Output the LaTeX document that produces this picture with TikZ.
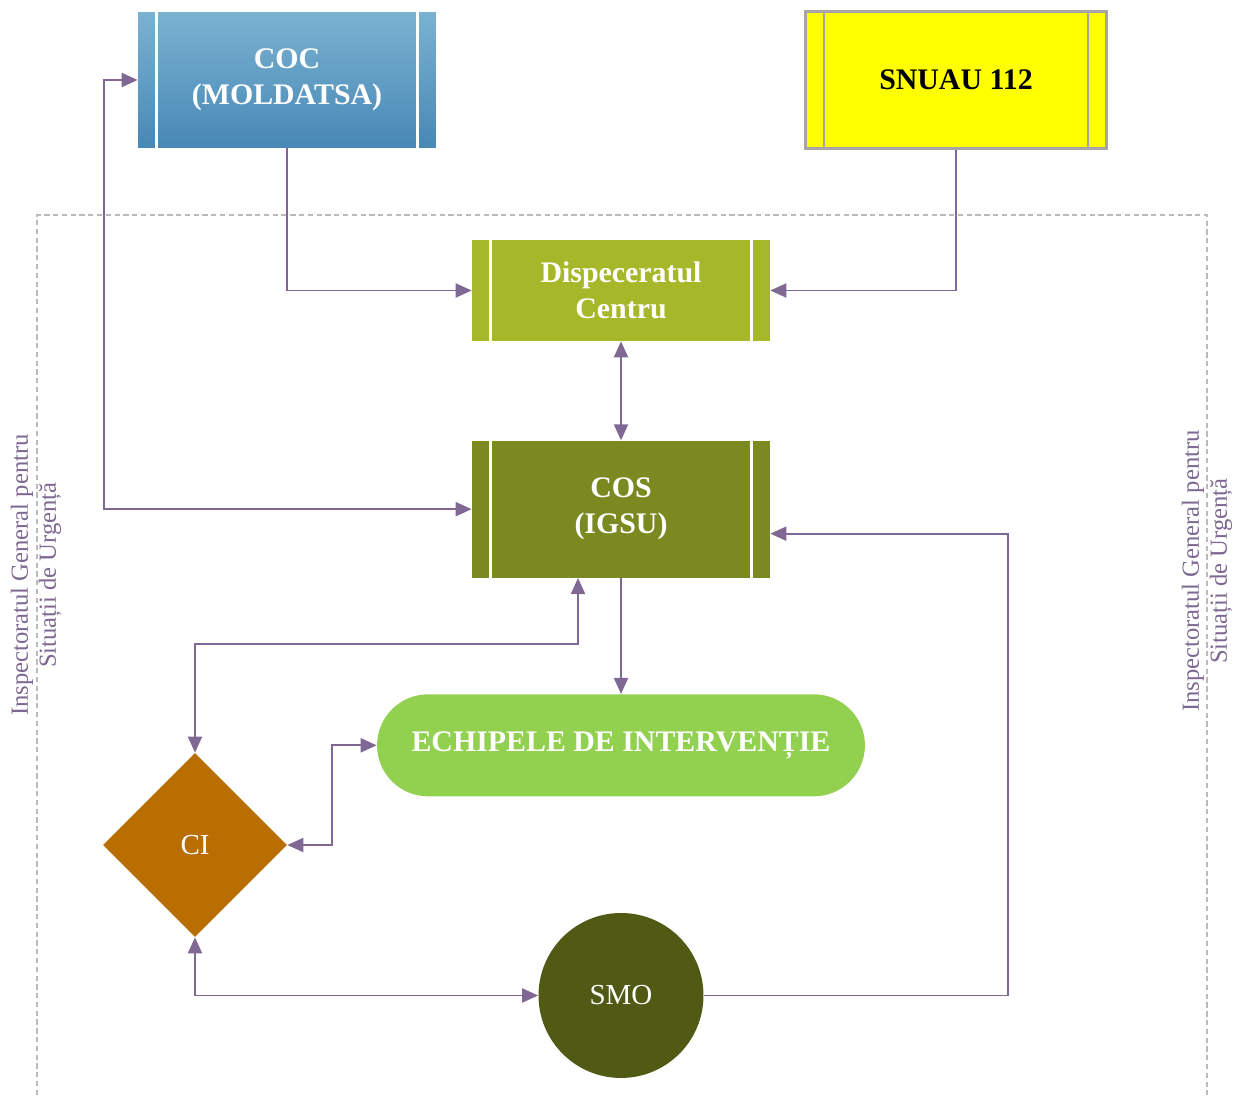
\documentclass[tikz,border=0pt]{standalone}
\usepackage{fontspec}
\setmainfont{Liberation Serif}
\usetikzlibrary{arrows.meta,shapes.geometric,positioning}

\definecolor{coctop}{RGB}{122,178,209}
\definecolor{cocbot}{RGB}{72,136,182}
\definecolor{snuyellow}{RGB}{255,255,0}
\definecolor{dispgreen}{RGB}{166,184,42}
\definecolor{cosgreen}{RGB}{122,137,32}
\definecolor{echgreen}{RGB}{146,208,80}
\definecolor{smogreen}{RGB}{80,90,20}
\definecolor{ciorange}{RGB}{184,110,0}
\definecolor{linkcol}{RGB}{128,104,148}
\definecolor{sidecol}{RGB}{125,104,145}

\newcommand\boxfont{\fontsize{17}{20.5}\selectfont\bfseries}
\newcommand\sidefont{\fontsize{14}{16}\selectfont}

\tikzset{>={Triangle[length=0.32cm, width=0.28cm]}}
\tikzset{
  stripebox/.style={rectangle, minimum width=5.96cm, inner sep=0pt, align=center,
    font=\boxfont, text=white,
    path picture={
      \draw[#1, line width=1.5pt]
        ([xshift=0.37cm]path picture bounding box.north west) --
        ([xshift=0.37cm]path picture bounding box.south west)
        ([xshift=-0.37cm]path picture bounding box.north east) --
        ([xshift=-0.37cm]path picture bounding box.south east);
    }},
  link/.style={draw=linkcol, line width=1.1pt, ->},
  link2/.style={draw=linkcol, line width=1.1pt, <->},
  frame/.style={draw=black!27, line width=1.1pt, dash pattern=on 3pt off 2pt},
  sidetext/.style={rotate=90, align=center, font=\sidefont, text=sidecol},
}

\begin{document}
\begin{tikzpicture}[x=0.02cm, y=-0.02cm]
  \useasboundingbox (0,0) rectangle (1250,1095);

  \draw[frame] (37,1095) -- (37,215) -- (1207,215) -- (1207,1095);
  \node[sidetext] (igsuleft) at (36,575)
    {Inspectoratul General pentru\\Situații de Urgență};
  \node[sidetext] (igsuright) at (1207,571)
    {Inspectoratul General pentru\\Situații de Urgență};

  \node[stripebox=white, minimum height=2.72cm, top color=coctop,
    bottom color=cocbot] (coc) at (287,80) {COC\\(MOLDATSA)};
  \node[stripebox=black!35, minimum width=6.02cm, minimum height=2.74cm,
    fill=snuyellow, draw=black!35, line width=1.5pt, text=black] (snuau) at (956,80) {SNUAU 112};

  \node[stripebox=white, minimum height=2.02cm, fill=dispgreen] (disp) at (621,290.5)
    {Dispeceratul\\Centru};
  \node[stripebox=white, minimum height=2.74cm, fill=cosgreen] (cos)
    [below=1.98cm of disp] {COS\\(IGSU)};
  \node[rectangle, rounded corners=1.02cm, minimum width=9.76cm, minimum height=2.04cm,
    fill=echgreen, font=\boxfont, text=white] (echipe)
    [below=2.32cm of cos] {ECHIPELE DE INTERVENȚIE};
  \node[circle, minimum size=3.3cm, inner sep=0pt, fill=smogreen, text=white,
    font=\fontsize{16.5}{20}\selectfont] (smo) [below=2.32cm of echipe] {SMO};
  \node[diamond, minimum width=3.68cm, minimum height=3.68cm, inner sep=0pt,
    fill=ciorange, text=white, font=\fontsize{16.5}{20}\selectfont] (ci) at (195,845) {CI};

  \draw[link] (coc.south) |- (disp.west);
  \draw[link] (snuau.south) |- (disp.east);
  \draw[link2] (disp.south) -- (cos.north);
  \draw[link2] (coc.west) -- ++(-34,0) |- (cos.west);
  \draw[link2] ([xshift=-0.86cm]cos.south) -- ++(0,66) -| (ci.north);
  \draw[link] (cos.south) -- (echipe.north);
  \draw[link2] (ci.east) -- ++(45,0) |- (echipe.west);
  \draw[link2] (ci.south) |- (smo.west);
  \draw[link] (smo.east) -- ++(304,0) |- ([yshift=-0.49cm]cos.east);
\end{tikzpicture}
\end{document}
